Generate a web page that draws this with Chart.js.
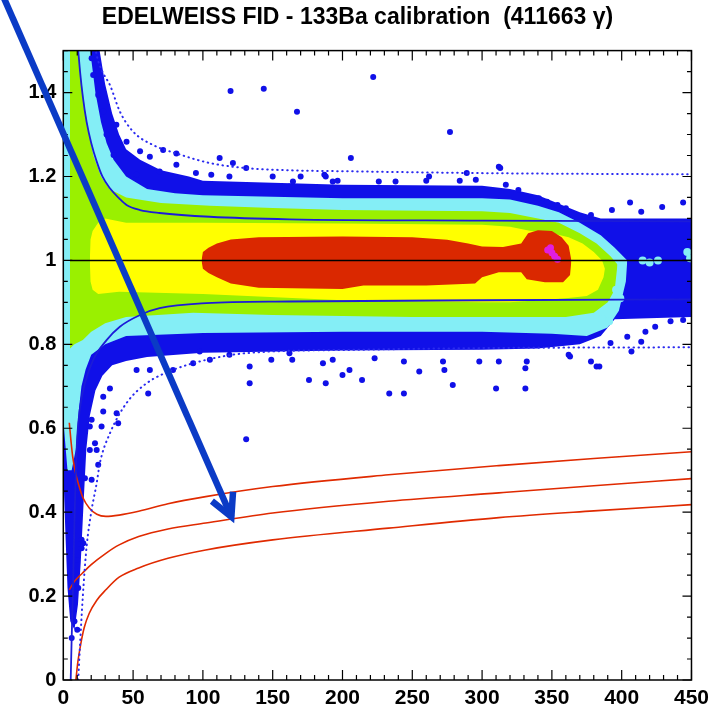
<!DOCTYPE html>
<html>
<head>
<meta charset="utf-8">
<script src="https://cdn.jsdelivr.net/npm/chart.js@4"></script>
<style>
  html, body { margin: 0; padding: 0; background: #fff; }
  #wrap { width: 715px; height: 711px; }
</style>
</head>
<body>
<div id="wrap"><canvas id="chart"></canvas></div>
<script>
const xTicks = [0, 50, 100, 150, 200, 250, 300, 350, 400, 450];
const yTicks = [0, 0.2, 0.4, 0.6, 0.8, 1, 1.2, 1.4];
const yTickLabels = ["0", "0.2", "0.4", "0.6", "0.8", "1", "1.2", "1.4"];

// density contours, [energy keV, Q]
const blueTop = [[0,1.6],[22,1.58],[26,1.5],[30,1.42],[35,1.35],[40,1.3],[45,1.265],[55,1.24],[70,1.215],[90,1.2],[100,1.19],[200,1.18],[300,1.178],[320,1.17],[340,1.155],[355,1.135],[370,1.115],[385,1.1],[395,1.1],[450,1.1]];
const blueBottom = [[0,0.5],[1.5,0.35],[3,0.22],[5,0.14],[8,0.12],[10.5,0.18],[12.5,0.28],[14.5,0.42],[16.5,0.55],[19,0.63],[23,0.69],[28,0.725],[35,0.75],[45,0.76],[60,0.77],[100,0.78],[200,0.785],[300,0.787],[340,0.79],[370,0.8],[385,0.82],[395,0.86],[450,0.865]];
const cyanTop = [[0,1.6],[18,1.55],[20,1.48],[23,1.4],[27,1.33],[31,1.28],[36,1.24],[45,1.2],[60,1.17],[80,1.16],[100,1.155],[200,1.148],[300,1.148],[320,1.145],[340,1.13],[355,1.115],[370,1.09],[385,1.06],[395,1.03],[404,1.0]];
const cyanBottom = [[0,0.62],[3,0.5],[6,0.5],[9,0.55],[11,0.64],[13,0.7],[16,0.74],[20,0.775],[30,0.8],[45,0.82],[100,0.827],[200,0.83],[300,0.83],[350,0.825],[375,0.82],[390,0.84],[398,0.88],[403,0.95],[404,1.0]];
const greenTop = [[4.8,1.6],[10.5,1.52],[12.5,1.44],[15.5,1.36],[18.5,1.3],[21.5,1.25],[27,1.2],[33,1.17],[45,1.15],[70,1.137],[105,1.13],[150,1.125],[200,1.12],[300,1.117],[320,1.113],[340,1.1],[355,1.09],[370,1.065],[382,1.04],[392,1.01],[397,0.99]];
const greenBottom = [[4.8,0.79],[8,0.8],[14,0.81],[20,0.83],[30,0.85],[45,0.865],[93,0.875],[150,0.87],[250,0.865],[320,0.865],[360,0.865],[380,0.875],[390,0.9],[395,0.93],[397,0.99]];
const yellowTop = [[19,1.0],[19.5,1.05],[21,1.07],[25,1.09],[30,1.1],[45,1.09],[100,1.09],[200,1.088],[300,1.085],[320,1.08],[335,1.07],[350,1.065],[362,1.055],[372,1.04],[380,1.02],[386,1.0],[388,0.98]];
const yellowBottom = [[19,1.0],[19.5,0.95],[21,0.93],[25,0.92],[40,0.925],[100,0.92],[200,0.905],[300,0.9],[320,0.9],[340,0.905],[360,0.91],[375,0.915],[383,0.93],[387,0.96],[388,0.98]];
const redTop = [[99,1.0],[100,1.02],[104,1.03],[110,1.04],[120,1.05],[140,1.055],[200,1.057],[250,1.055],[275,1.049],[290,1.04],[300,1.033],[315,1.032],[328,1.04],[333,1.065],[340,1.072],[350,1.07],[357,1.055],[362,1.035],[364,1.0]];
const redBottom = [[99,1.0],[100,0.98],[104,0.97],[110,0.96],[120,0.945],[140,0.935],[200,0.932],[215,0.94],[260,0.94],[295,0.945],[300,0.96],[312,0.972],[328,0.972],[332,0.955],[345,0.948],[358,0.948],[363,0.965],[364,1.0]];
const magentaSpots = [[347,1.025],[349,1.03],[350,1.018],[352,1.01],[354,1.003]];
const cyanSpots = [[415,1.0],[420,0.995],[426,1.0],[447,1.02],[449,1.005],[396,0.93],[399,0.91],[386,0.86],[391,0.855]];

// single gamma events outside the dense band
const blueSpots = [
  [119.8,1.404],[143.6,1.409],[167.4,1.354],[222,1.437],[277,1.306],[131,0.574],
  [206,1.244],[289,1.208],[312,1.223],[112,1.244],[121.5,1.232],[95,1.208],[106,1.204],[119,1.2],[150,1.2],
  [164.5,1.188],[188,1.2],[193,1.188],[131,1.22],[71.5,1.263],[81,1.255],[55,1.26],[62,1.247],[69,1.212],
  [81,1.228],[45.3,1.283],[38,1.323],[28.6,1.355],[25,1.394],[21.4,1.442],[20.3,1.482],[31,1.3],[36,1.251],
  [52.5,1.204],[162,1.176],[170,1.2],[187,1.204],[196.5,1.19],[226,1.188],[238,1.188],[260,1.19],[262,1.2],
  [284,1.19],[295.5,1.192],[317,1.18],[313,1.22],[326,1.168],[335,1.145],[346.5,1.14],[354,1.132],[360,1.124],
  [340.7,1.148],[378,1.108],[393,1.12],[406,1.138],[414,1.116],[429,1.127],[444,1.138],
  [407,0.783],[414,0.806],[417,0.83],[424,0.842],[435,0.855],[444,0.858],[384,0.747],[378,0.759],[363,0.771],
  [332,0.759],[331,0.743],[392,0.803],[404,0.818],[382,0.747],[176,0.715],[188,0.707],[233.5,0.683],[244,0.683],
  [279,0.703],[310,0.695],[331,0.695],[205,0.739],[214,0.715],[255,0.735],[273,0.739],[93,0.755],[105,0.763],
  [119,0.775],[133.5,0.747],[149,0.763],[162,0.779],[186,0.755],[200,0.727],[133.5,0.707],[164,0.763],[193,0.763],
  [223,0.767],[244,0.759],[272,0.759],[298,0.759],[312,0.759],[362,0.775],
  [60.8,0.683],[38.2,0.636],[39.3,0.612],[27.4,0.604],[33.4,0.695],[28.6,0.675],[23.9,0.548],[19,0.548],
  [20.3,0.477],[15.5,0.481],[25,0.513],[52.5,0.739],[62,0.739],[78.6,0.739],[97.7,0.783],[28.6,0.64],
  [13.1,0.334],[13.1,0.314],[9.5,0.286],[10.7,0.219],[14.3,0.326],[20.3,0.62],[22.7,0.564],[19,0.604],
  [8,0.14],[10,0.12],[6,0.1]
];

// gamma band (90 % and 99.99 %), nuclear recoil band, Q = 1
const gammaUp = [[10.7,1.5],[12,1.45],[14,1.39],[16.7,1.33],[20,1.28],[23.9,1.236],[28,1.2],[33.4,1.172],[40,1.148],[45.3,1.132],[55,1.12],[69,1.113],[105,1.104],[162,1.098],[300,1.095],[450,1.093]];
const gammaLow = [[5.3,0],[6,0.1],[7.1,0.24],[8,0.38],[9,0.5],[10,0.58],[12,0.65],[15.5,0.707],[21.4,0.763],[31,0.81],[40.5,0.842],[55,0.87],[69,0.886],[102.5,0.898],[162,0.902],[300,0.905],[450,0.907]];
const gammaUpWide = [[22.5,1.52],[23.9,1.49],[28,1.45],[33.4,1.418],[40.5,1.355],[50,1.307],[64.3,1.275],[81,1.255],[105,1.232],[131,1.22],[160,1.215],[212,1.212],[300,1.208],[450,1.205]];
const gammaLowWide = [[10.7,0],[11.9,0.079],[14,0.2],[16.7,0.318],[20,0.4],[23.9,0.469],[26.2,0.517],[33.4,0.588],[45.3,0.66],[59.6,0.707],[78.6,0.739],[102.5,0.763],[131,0.779],[212,0.787],[300,0.791],[450,0.793]];
const recoilUp = [[4.3,0.613],[5.5,0.57],[6.7,0.533],[9,0.49],[11.4,0.461],[14,0.435],[18.6,0.41],[24,0.395],[30.5,0.39],[40,0.393],[54,0.402],[75,0.42],[102,0.437],[150,0.461],[233,0.489],[312,0.511],[380,0.528],[450,0.544]];
const recoilMid = [[4.3,0.215],[8,0.235],[13.8,0.255],[20,0.275],[30.5,0.302],[40,0.322],[54,0.342],[75,0.36],[102,0.374],[150,0.398],[233,0.426],[312,0.446],[380,0.463],[450,0.48]];
const recoilLow = [[9,0],[10.5,0.045],[12.6,0.0875],[15,0.125],[18.6,0.159],[24,0.19],[30.5,0.215],[40,0.245],[54,0.267],[75,0.29],[102,0.31],[150,0.334],[233,0.362],[312,0.387],[380,0.403],[450,0.418]];
const unity = [[4.8,1],[450,1]];

const arrowFrom = [-48.3, 1.669];
const arrowTo = [120.4, 0.389];

const FONT = "'Liberation Sans', Arial, Helvetica, sans-serif";
const toXY = (pts) => pts.map(([x, y]) => ({ x, y }));

function band(top, bottom, color, order) {
  return [
    { data: toXY(top), backgroundColor: color, borderColor: "rgba(0,0,0,0)", borderWidth: 0, pointRadius: 0, fill: "+1", order },
    { data: toXY(bottom), borderColor: "rgba(0,0,0,0)", borderWidth: 0, pointRadius: 0, fill: false, order },
  ];
}

function curve(pts, color, width, dashed) {
  return {
    data: toXY(pts), borderColor: color, borderWidth: width, pointRadius: 0, fill: false,
    cubicInterpolationMode: "monotone", borderDash: dashed ? [0.5, 4.5] : [],
    borderCapStyle: dashed ? "round" : "butt", order: 0,
  };
}

function spots(pts, color, r, order) {
  return { data: toXY(pts), showLine: false, pointRadius: r, pointBackgroundColor: color, pointBorderWidth: 0, borderColor: color, order };
}

const framePlugin = {
  id: "frame",
  afterDatasetsDraw(chart) {
    const { ctx, chartArea: a, scales: { x, y } } = chart;
    ctx.save();
    ctx.strokeStyle = "#000";
    ctx.lineWidth = 1.5;
    ctx.strokeRect(a.left, a.top, a.right - a.left, a.bottom - a.top);
    ctx.lineWidth = 1.2;
    ctx.beginPath();
    for (let v = 0; v <= 450; v += 10) {
      const px = x.getPixelForValue(v);
      const len = v % 50 === 0 ? 10 : 5;
      ctx.moveTo(px, a.bottom); ctx.lineTo(px, a.bottom - len);
      ctx.moveTo(px, a.top); ctx.lineTo(px, a.top + len);
    }
    for (let i = 0; i <= 30; i++) {
      const py = y.getPixelForValue(i * 0.05);
      const len = i % 4 === 0 ? 9 : 4.5;
      ctx.moveTo(a.left, py); ctx.lineTo(a.left + len, py);
      ctx.moveTo(a.right, py); ctx.lineTo(a.right - len, py);
    }
    ctx.stroke();
    ctx.restore();
  },
};

const arrowPlugin = {
  id: "arrow",
  afterDraw(chart) {
    const { ctx, scales: { x, y } } = chart;
    const x0 = x.getPixelForValue(arrowFrom[0]), y0 = y.getPixelForValue(arrowFrom[1]);
    const x1 = x.getPixelForValue(arrowTo[0]), y1 = y.getPixelForValue(arrowTo[1]);
    const ang = Math.atan2(y0 - y1, x0 - x1);
    const head = 25, spread = 0.48;
    ctx.save();
    ctx.strokeStyle = "#0b3bc6";
    ctx.lineWidth = 6.5;
    ctx.beginPath();
    ctx.moveTo(x0, y0);
    ctx.lineTo(x1, y1);
    ctx.stroke();
    ctx.beginPath();
    ctx.moveTo(x1 + head * Math.cos(ang - spread), y1 + head * Math.sin(ang - spread));
    ctx.lineTo(x1, y1);
    ctx.lineTo(x1 + head * Math.cos(ang + spread), y1 + head * Math.sin(ang + spread));
    ctx.stroke();
    ctx.restore();
  },
};

const datasets = [
  curve(unity, "#000000", 1.5),
  curve(gammaUp, "#1c1cd8", 1.8),
  curve(gammaLow, "#1c1cd8", 1.8),
  curve(gammaUpWide, "#2a2af0", 2, true),
  curve(gammaLowWide, "#2a2af0", 2, true),
  curve(recoilUp, "#e02a00", 1.6),
  curve(recoilMid, "#e02a00", 1.6),
  curve(recoilLow, "#e02a00", 1.6),
  spots(blueSpots, "#1010e8", 3, 2),
  spots(cyanSpots, "#84eef6", 4, 2.5),
  spots(magentaSpots, "#e01ee0", 3.5, 3),
  ...band(redTop, redBottom, "#da2800", 4),
  ...band(yellowTop, yellowBottom, "#ffff00", 5),
  ...band(greenTop, greenBottom, "#9af000", 6),
  ...band(cyanTop, cyanBottom, "#84eef6", 7),
  ...band(blueTop, blueBottom, "#1010e8", 8),
];

new Chart(document.getElementById("chart"), {
  type: "line",
  data: { datasets },
  options: {
    responsive: true,
    maintainAspectRatio: false,
    animation: false,
    events: [],
    layout: { padding: 0 },
    plugins: {
      legend: { display: false },
      tooltip: { enabled: false },
      title: {
        display: true,
        text: "EDELWEISS FID - 133Ba calibration  (411663 γ)",
        color: "#000",
        font: { family: FONT, size: 23, weight: "bold", lineHeight: 1.2 },
        padding: { top: 4, bottom: 19 },
      },
    },
    scales: {
      x: {
        type: "linear", min: 0, max: 450,
        grid: { display: false, drawTicks: false }, border: { display: false },
        afterBuildTicks: (s) => { s.ticks = xTicks.map((v) => ({ value: v })); },
        afterFit: (s) => { s.height = 31; },
        ticks: { color: "#000", font: { family: FONT, size: 21, weight: "bold" }, padding: 6, maxRotation: 0, autoSkip: false },
      },
      y: {
        type: "linear", min: 0, max: 1.5,
        grid: { display: false, drawTicks: false }, border: { display: false },
        afterBuildTicks: (s) => { s.ticks = yTicks.map((v) => ({ value: v })); },
        afterFit: (s) => { s.width = 63.3; },
        ticks: {
          color: "#000", font: { family: FONT, size: 20, weight: "bold" }, padding: 7, autoSkip: false,
          callback: (v) => yTickLabels[yTicks.indexOf(v)],
        },
      },
      yRight: {
        type: "linear", position: "right", min: 0, max: 1.5,
        grid: { display: false }, border: { display: false }, ticks: { display: false },
        afterFit: (s) => { s.width = 22; },
      },
    },
  },
  plugins: [framePlugin, arrowPlugin],
});
</script>
</body>
</html>
